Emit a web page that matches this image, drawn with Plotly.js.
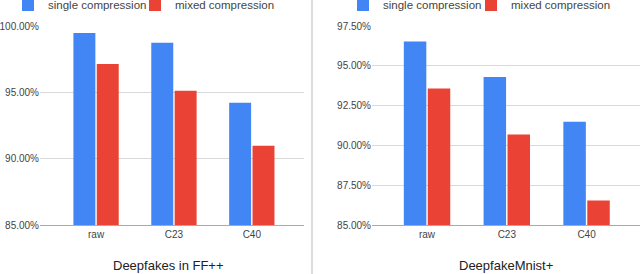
<!DOCTYPE html>
<html><head><meta charset="utf-8">
<script src="https://cdn.plot.ly/plotly-3.0.1.min.js"></script>
<style>html,body{margin:0;padding:0;background:#fff}#chart{width:640px;height:274px}</style>
</head><body><div id="chart"></div>
<script>
var categories = ["raw", "C23", "C40"];
var ffSingle = [99.47, 98.74, 94.22];
var ffMixed = [97.13, 95.12, 90.98];
var mnistSingle = [96.52, 94.29, 91.48];
var mnistMixed = [93.58, 90.69, 86.54];
var seriesNames = ["single compression", "mixed compression"];
var panelTitles = ["Deepfakes in FF++", "DeepfakeMnist+"];

var blue = "#4285F4", red = "#EA4335";
var font = "Liberation Sans, Arial, sans-serif";

var traces = [
  {type:"bar", x:categories, y:ffSingle, name:seriesNames[0], marker:{color:blue}, xaxis:"x", yaxis:"y", legend:"legend"},
  {type:"bar", x:categories, y:ffMixed, name:seriesNames[1], marker:{color:red}, xaxis:"x", yaxis:"y", legend:"legend2"},
  {type:"bar", x:categories, y:mnistSingle, name:seriesNames[0], marker:{color:blue}, xaxis:"x2", yaxis:"y2", legend:"legend3"},
  {type:"bar", x:categories, y:mnistMixed, name:seriesNames[1], marker:{color:red}, xaxis:"x2", yaxis:"y2", legend:"legend4"}
];
traces.forEach(function(t){ t.hoverinfo = "none"; });

function leg(xpx){
  return {x:xpx/640, xanchor:"left", y:1.035, yanchor:"top", orientation:"h",
    font:{family:font, size:11.5, color:"#444"}, bgcolor:"rgba(0,0,0,0)", itemwidth:30};
}
var yDom = [1-225/274, 1-26/274];
var axY = {gridcolor:"#d9d9d9", tickfont:{family:font, size:10, color:"#444"}, ticksuffix:"%", tickformat:".2f", zeroline:false, showline:false, fixedrange:true, automargin:false};
var axX = {tickfont:{family:font, size:10, color:"#444"}, showline:true, linecolor:"#aaa", linewidth:1, showgrid:false, ticks:"", type:"category", automargin:false};

var layout = {
  width:640, height:274, margin:{l:0,r:0,t:0,b:0, autoexpand:false},
  paper_bgcolor:"#fff", plot_bgcolor:"#fff",
  barmode:"group", bargap:0.4, bargroupgap:0.06,
  showlegend:true,
  legend:leg(8), legend2:leg(135), legend3:leg(343), legend4:leg(471),
  xaxis:Object.assign({}, axX, {domain:[40/640, 304/640], range:[-0.72, 2.67], anchor:"y"}),
  yaxis:Object.assign({}, axY, {domain:yDom, range:[85,100], dtick:5, tick0:85, anchor:"x"}),
  xaxis2:Object.assign({}, axX, {domain:[372/640, 1], range:[-0.69, 2.67], anchor:"y2"}),
  yaxis2:Object.assign({}, axY, {domain:yDom, range:[85,97.5], dtick:2.5, tick0:85, anchor:"x2"}),
  annotations:[
    {text:panelTitles[0], xref:"paper", yref:"paper", x:168/640, y:1-265/274, xanchor:"center", yanchor:"middle", showarrow:false, font:{family:font, size:13, color:"#222"}},
    {text:panelTitles[1], xref:"paper", yref:"paper", x:506/640, y:1-265/274, xanchor:"center", yanchor:"middle", showarrow:false, font:{family:font, size:13, color:"#222"}}
  ],
  shapes:[
    {type:"line", xref:"paper", yref:"paper", x0:312/640, x1:312/640, y0:0, y1:1, line:{color:"#bbb", width:1}}
  ]
};
Plotly.newPlot("chart", traces, layout, {staticPlot:true, displayModeBar:false});
</script></body></html>
